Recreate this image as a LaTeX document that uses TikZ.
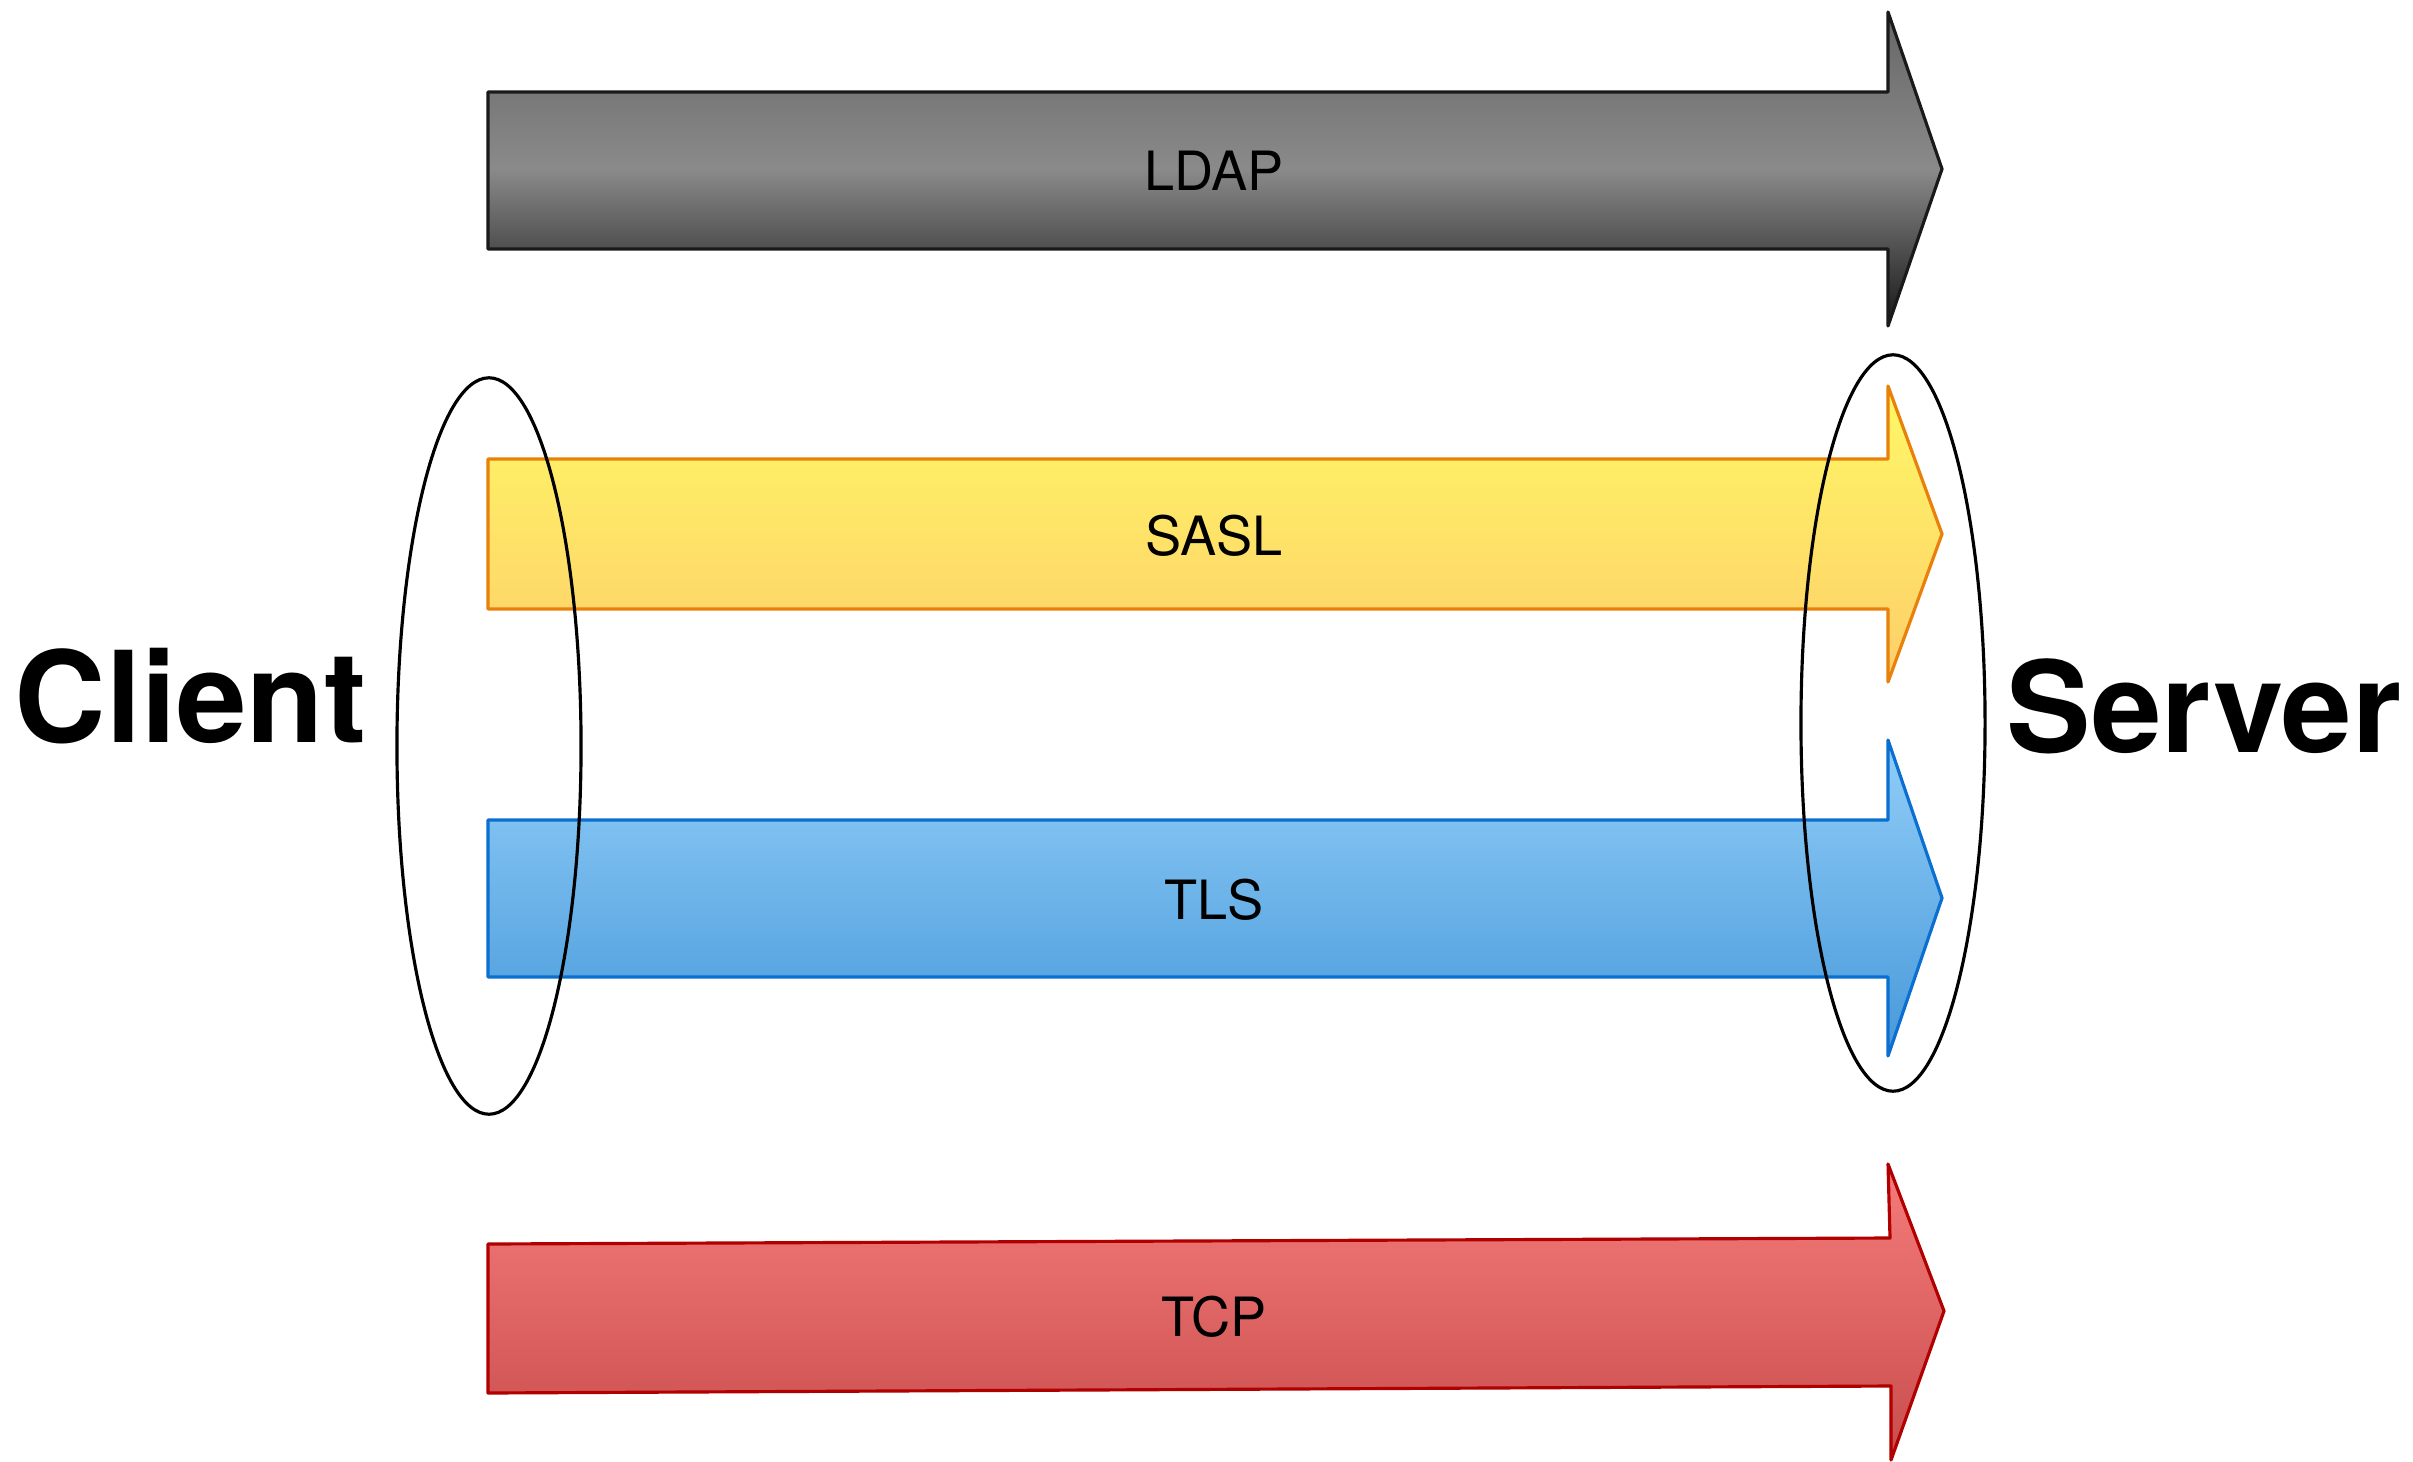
\documentclass[tikz,border=0pt]{standalone}
\usepackage{fontspec}
\setmainfont{TeX Gyre Heros}
\usepackage{tikz}
\usepackage{xcolor}
\usetikzlibrary{shapes.geometric}

\definecolor{ldaptop}{HTML}{666666}
\definecolor{ldapmid}{HTML}{8A8A8A}
\definecolor{ldapbot}{HTML}{161616}
\definecolor{ldapedge}{HTML}{1A1A1A}
\definecolor{sasltop}{HTML}{FFF866}
\definecolor{saslbot}{HTML}{FDCE6A}
\definecolor{sasledge}{HTML}{E8800A}
\definecolor{tlstop}{HTML}{92CEF8}
\definecolor{tlsbot}{HTML}{4698DA}
\definecolor{tlsedge}{HTML}{0A6FD0}
\definecolor{tcptop}{HTML}{F67C7C}
\definecolor{tcpbot}{HTML}{C84C4C}
\definecolor{tcpedge}{HTML}{B00000}

\begin{document}
\begin{tikzpicture}[x=0.01cm, y=-0.01cm,
  layer/.style={line width=0.9pt, line join=round},
  ring/.style={draw, ellipse, line width=0.9pt, minimum width=1.84cm, minimum height=7.36cm, inner sep=0pt},
  tag/.style={anchor=base, inner sep=0pt, font=\fontsize{15.4}{18}\selectfont},
  side/.style={anchor=base west, inner sep=0pt, font=\fontsize{36}{42}\selectfont\bfseries}]
\useasboundingbox (0,0) rectangle (2413,1461);

% the four layers, top to bottom
\shadedraw[layer, draw=ldapedge, top color=ldaptop, bottom color=ldapbot, middle color=ldapmid]
  (488,92) -- (1888,92) -- (1888,12) -- (1942,169) -- (1888,326) -- (1888,249) -- (488,249) -- cycle;
\shadedraw[layer, draw=sasledge, top color=sasltop, bottom color=saslbot]
  (488,459) -- (1888,459) -- (1888,386) -- (1942,534) -- (1888,682) -- (1888,609) -- (488,609) -- cycle;
\shadedraw[layer, draw=tlsedge, top color=tlstop, bottom color=tlsbot]
  (488,820) -- (1888,820) -- (1888,740) -- (1942,898) -- (1888,1056) -- (1888,977) -- (488,977) -- cycle;
\shadedraw[layer, draw=tcpedge, top color=tcptop, bottom color=tcpbot]
  (488,1244) -- (1890,1238) -- (1888,1164) -- (1944,1311) -- (1891,1460) -- (1891,1386) -- (488,1393) -- cycle;

\node[tag] (ldap) at (1214,191) {LDAP};
\node[tag] (sasl) at (1214,555) {SASL};
\node[tag] (tls) at (1214,919) {TLS};
\node[tag] (tcp) at (1214,1336) {TCP};

% the two ends
\node[ring] (clientring) at (489,746) {};
\node[ring] (serverring) at (1893,723) {};
\node[side] (client) at (14,742) {Client};
\node[side] (server) at (2006,752) {Server};
\end{tikzpicture}
\end{document}
